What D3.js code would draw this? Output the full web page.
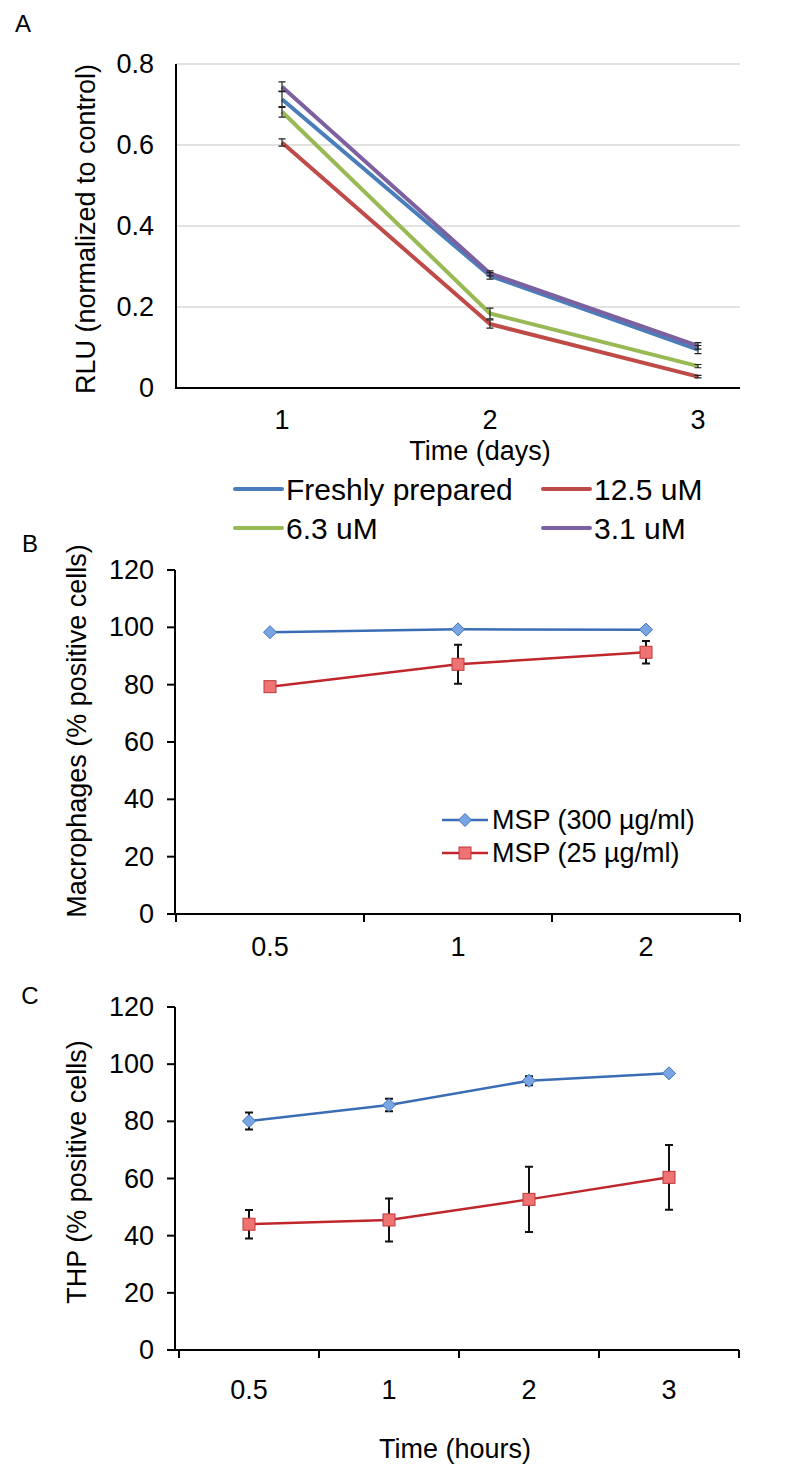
<!DOCTYPE html>
<html><head><meta charset="utf-8">
<script src="https://cdn.jsdelivr.net/npm/d3@7/dist/d3.min.js"></script>
<style>
body{margin:0;background:#fff;}
svg{display:block;font-family:"Liberation Sans",Arial,Helvetica,sans-serif;}
</style></head>
<body><svg id="c" width="793" height="1466"></svg>
<script>
// ---- Panel A data ----
const daysA = [1, 2, 3];
const freshly = [0.713, 0.277, 0.095];
const freshlyErr = [0.02, 0.008, 0.01];
const uM125 = [0.606, 0.158, 0.028];
const uM125Err = [0.009, 0.01, 0.003];
const uM63 = [0.682, 0.184, 0.054];
const uM63Err = [0.013, 0.013, 0.004];
const uM31 = [0.744, 0.283, 0.104];
const uM31Err = [0.012, 0.006, 0.008];
const seriesNamesA = ["Freshly prepared", "12.5 uM", "6.3 uM", "3.1 uM"];
const ticksA = [0, 0.2, 0.4, 0.6, 0.8];

// ---- Panel B data ----
const timesB = ["0.5", "1", "2"];
const msp300B = [98.3, 99.3, 99.2];
const msp300BErr = [0.4, 0.3, 0.3];
const msp25B = [79.3, 87.1, 91.3];
const msp25BErr = [1.0, 6.8, 3.9];

// ---- Panel C data ----
const timesC = ["0.5", "1", "2", "3"];
const msp300C = [80.1, 85.7, 94.2, 96.8];
const msp300CErr = [3.0, 2.2, 1.6, 0.7];
const msp25C = [44.0, 45.5, 52.7, 60.4];
const msp25CErr = [5.0, 7.5, 11.4, 11.3];
const seriesNamesBC = ["MSP (300 µg/ml)", "MSP (25 µg/ml)"];
const ticksBC = [0, 20, 40, 60, 80, 100, 120];

const svg = d3.select("#c");
const FS = 27;

// ================= Panel A =================
const colorsA = ["#4a7ebb", "#be4b48", "#98b954", "#7d60a0"];
const xA = d3.scalePoint().domain(daysA).range([178, 802]).padding(0.5);
const yA = d3.scaleLinear().domain([0, 0.8]).range([388, 64]);
const gA = svg.append("g");
gA.selectAll("line.grid").data(ticksA.filter(d => d > 0)).join("line")
  .attr("x1", 176).attr("x2", 740).attr("y1", d => yA(d)).attr("y2", d => yA(d))
  .attr("stroke", "#d9d9d9").attr("stroke-width", 1.5);
gA.append("path").attr("d", `M176,${yA(0.8)}V${yA(0)}H740`).attr("fill", "none")
  .attr("stroke", "#000").attr("stroke-width", 2);
gA.selectAll("text.yt").data(ticksA).join("text")
  .attr("x", 154).attr("y", d => yA(d)).attr("text-anchor", "end")
  .attr("dominant-baseline", "central").attr("font-size", FS).text(d => d === 0 ? "0" : d.toFixed(1));
gA.selectAll("text.xt").data(daysA).join("text")
  .attr("x", d => xA(d)).attr("y", 420).attr("text-anchor", "middle")
  .attr("dominant-baseline", "central").attr("font-size", FS).text(d => d);
gA.append("text").attr("x", 480).attr("y", 451).attr("text-anchor", "middle")
  .attr("dominant-baseline", "central").attr("font-size", FS).text("Time (days)");
gA.append("text").attr("transform", "translate(86,229) rotate(-90)").attr("text-anchor", "middle")
  .attr("dominant-baseline", "central").attr("font-size", FS).text("RLU (normalized to control)");
gA.append("text").attr("x", 23).attr("y", 23).attr("text-anchor", "middle")
  .attr("dominant-baseline", "central").attr("font-size", 24).text("A");

const seriesA = [
  {v: freshly, e: freshlyErr},
  {v: uM125, e: uM125Err},
  {v: uM63, e: uM63Err},
  {v: uM31, e: uM31Err}
];
const lineA = d3.line().x((d, i) => xA(daysA[i])).y(d => yA(d));
seriesA.forEach((s, k) => {
  gA.append("path").attr("d", lineA(s.v)).attr("fill", "none")
    .attr("stroke", colorsA[k]).attr("stroke-width", 4).attr("stroke-linejoin", "round");
});
seriesA.forEach((s) => {
  s.v.forEach((v, i) => {
    const x = xA(daysA[i]);
    const y1 = yA(v + s.e[i]), y2 = yA(v - s.e[i]);
    gA.append("path").attr("d", `M${x},${y1}V${y2}M${x-3.5},${y1}H${x+3.5}M${x-3.5},${y2}H${x+3.5}`)
      .attr("stroke", "#222").attr("stroke-width", 1.2).attr("fill", "none");
  });
});
const legA = [
  {x: 235, y: 489}, {x: 543, y: 489}, {x: 235, y: 528}, {x: 543, y: 528}
];
seriesNamesA.forEach((n, k) => {
  const p = legA[k];
  gA.append("line").attr("x1", p.x).attr("x2", p.x + 47).attr("y1", p.y).attr("y2", p.y)
    .attr("stroke", colorsA[k]).attr("stroke-width", 4).attr("stroke-linecap", "round");
  gA.append("text").attr("x", p.x + 51).attr("y", p.y).attr("dominant-baseline", "central")
    .attr("font-size", 30).text(n);
});

// ================= Panels B & C =================
const blueLine = "#3a6db5", blueFill = "#79a6e3", blueStroke = "#3f72bd";
const redLine = "#c0272d", redFill = "#ee7372", redStroke = "#c0393b";

function diamond(g, x, y) {
  const r = 6.5;
  g.append("path").attr("d", `M${x},${y-r}L${x+r},${y}L${x},${y+r}L${x-r},${y}Z`)
    .attr("fill", blueFill).attr("stroke", blueStroke).attr("stroke-width", 1);
}
function square(g, x, y) {
  const r = 6;
  g.append("rect").attr("x", x - r).attr("y", y - r).attr("width", 2 * r).attr("height", 2 * r)
    .attr("fill", redFill).attr("stroke", redStroke).attr("stroke-width", 1);
}
function errBar(g, x, ya, yb) {
  g.append("path").attr("d", `M${x},${ya}V${yb}M${x-4},${ya}H${x+4}M${x-4},${yb}H${x+4}`)
    .attr("stroke", "#111").attr("stroke-width", 2).attr("fill", "none");
}

function panel(opts) {
  const g = svg.append("g");
  const x = d3.scaleBand().domain(opts.cats).range(opts.xr).paddingInner(0).paddingOuter(0);
  const y = d3.scaleLinear().domain([0, 120]).range(opts.yr);
  g.append("line").attr("x1", opts.ax).attr("x2", opts.ax).attr("y1", y(120)).attr("y2", y(0))
    .attr("stroke", "#000").attr("stroke-width", 2);
  g.selectAll("line.yt").data(ticksBC).join("line")
    .attr("x1", opts.ax - 8).attr("x2", opts.ax).attr("y1", d => y(d)).attr("y2", d => y(d))
    .attr("stroke", "#000").attr("stroke-width", 2);
  g.selectAll("text.yl").data(ticksBC).join("text")
    .attr("x", 154).attr("y", d => y(d)).attr("text-anchor", "end")
    .attr("dominant-baseline", "central").attr("font-size", FS).text(d => d);
  g.append("line").attr("x1", opts.ax - 8).attr("x2", opts.xr[1]).attr("y1", y(0)).attr("y2", y(0))
    .attr("stroke", "#000").attr("stroke-width", 2);
  const bounds = opts.cats.map(c => x(c)).concat([opts.xr[1]]);
  g.selectAll("line.xt").data(bounds).join("line")
    .attr("x1", d => d).attr("x2", d => d).attr("y1", y(0)).attr("y2", y(0) + 8)
    .attr("stroke", "#000").attr("stroke-width", 2);
  g.selectAll("text.xl").data(opts.cats).join("text")
    .attr("x", d => x(d) + x.bandwidth() / 2).attr("y", opts.xly).attr("text-anchor", "middle")
    .attr("dominant-baseline", "central").attr("font-size", FS).text(d => d);
  g.append("text").attr("transform", `translate(${opts.ytx},${opts.yty}) rotate(-90)`)
    .attr("text-anchor", "middle").attr("dominant-baseline", "central").attr("font-size", FS).text(opts.ytitle);
  g.append("text").attr("x", 30).attr("y", opts.ply).attr("text-anchor", "middle")
    .attr("dominant-baseline", "central").attr("font-size", 24).text(opts.plabel);
  if (opts.xtitle) {
    g.append("text").attr("x", 455).attr("y", opts.xtitleY).attr("text-anchor", "middle")
      .attr("dominant-baseline", "central").attr("font-size", FS).text(opts.xtitle);
  }
  const cx = c => x(c) + x.bandwidth() / 2;
  const line = d3.line().x((d, i) => cx(opts.cats[i])).y(d => y(d));
  g.append("path").attr("d", line(opts.red)).attr("fill", "none").attr("stroke", redLine).attr("stroke-width", 2.5);
  opts.red.forEach((v, i) => errBar(g, cx(opts.cats[i]), y(v + opts.redErr[i]), y(v - opts.redErr[i])));
  opts.red.forEach((v, i) => square(g, cx(opts.cats[i]), y(v)));
  g.append("path").attr("d", line(opts.blue)).attr("fill", "none").attr("stroke", blueLine).attr("stroke-width", 2.5);
  opts.blue.forEach((v, i) => errBar(g, cx(opts.cats[i]), y(v + opts.blueErr[i]), y(v - opts.blueErr[i])));
  opts.blue.forEach((v, i) => diamond(g, cx(opts.cats[i]), y(v)));
  return g;
}

const gB = panel({cats: timesB, xr: [176, 740], yr: [914, 570], ax: 175, xly: 947,
  red: msp25B, redErr: msp25BErr, blue: msp300B, blueErr: msp300BErr,
  ytitle: "Macrophages (% positive cells)", ytx: 77, yty: 731, plabel: "B", ply: 543});
[[820, "blue"], [853, "red"]].forEach((r, k) => {
  const yy = r[0];
  gB.append("line").attr("x1", 442).attr("x2", 488).attr("y1", yy).attr("y2", yy)
    .attr("stroke", k === 0 ? blueLine : redLine).attr("stroke-width", 2.5);
  if (k === 0) diamond(gB, 465, yy); else square(gB, 465, yy);
  gB.append("text").attr("x", 492).attr("y", yy).attr("dominant-baseline", "central")
    .attr("font-size", FS).text(seriesNamesBC[k]);
});

panel({cats: timesC, xr: [179, 739], yr: [1350, 1007], ax: 175, xly: 1390,
  red: msp25C, redErr: msp25CErr, blue: msp300C, blueErr: msp300CErr,
  ytitle: "THP (% positive cells)", ytx: 77, yty: 1172, plabel: "C", ply: 995,
  xtitle: "Time (hours)", xtitleY: 1449});
</script></body></html>
